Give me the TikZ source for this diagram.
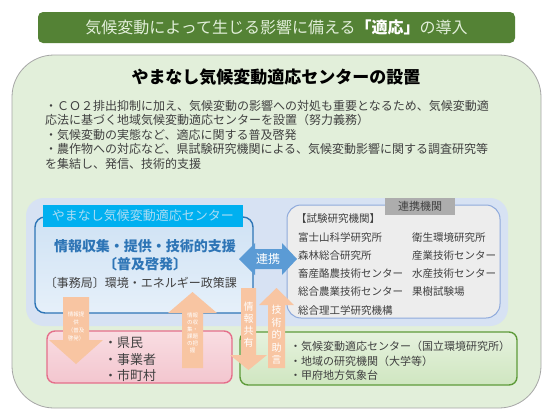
\documentclass[tikz,border=0pt]{standalone}
\usepackage{fontspec}
\setmainfont{Noto Sans CJK JP}
\usepackage{tikz}
\usetikzlibrary{positioning}
\definecolor{TitleGreen}{HTML}{548235}
\definecolor{TitleText}{HTML}{E2EFDA}
\definecolor{PanelGreen}{HTML}{E2EFDA}
\definecolor{ZoneBlue}{HTML}{D7E2F3}
\definecolor{CenterBlue}{HTML}{2E75B6}
\definecolor{CenterTop}{HTML}{CFE2F4}
\definecolor{CenterBottom}{HTML}{E6F0FA}
\definecolor{HeaderCyan}{HTML}{00B0F0}
\definecolor{HeaderText}{HTML}{A8DCF4}
\definecolor{PartnerLine}{HTML}{8FAADC}
\definecolor{PartnerFill}{HTML}{EDEDED}
\definecolor{LabelGray}{HTML}{ADADAD}
\definecolor{PinkLine}{HTML}{E56F8B}
\definecolor{PinkTop}{HTML}{F9DDE2}
\definecolor{PinkBottom}{HTML}{F3C6CF}
\definecolor{GreenLine}{HTML}{5E9B3A}
\definecolor{GreenTop}{HTML}{E6F2DE}
\definecolor{GreenBottom}{HTML}{CFE6C0}
\definecolor{Peach}{HTML}{F8C5A2}
\definecolor{LinkBlue}{HTML}{5B9BD5}
\definecolor{TextGray}{HTML}{404040}
\begin{document}
\begin{tikzpicture}[x=1pt,y=-1pt,
    panel/.style={rounded corners=10pt, line width=1.4pt},
    peacharrow/.style={fill=Peach},
    listtext/.style={anchor=west, inner sep=0pt, text=TextGray, font=\fontsize{10.5}{10.5}\selectfont},
    membertext/.style={anchor=west, inner sep=0pt, text=TextGray},
    arrowtext/.style={inner sep=0pt, text=white, align=center},
  ]
\useasboundingbox (0,0) rectangle (550,413);
\fill[white] (0,0) rectangle (550,413);

% title bar
\node[fill=TitleGreen, rounded corners=5pt, minimum width=477pt, minimum height=31pt, inner sep=0pt,
      text=TitleText, font=\fontsize{16}{16}\selectfont] (title) at (276.5,27.5)
      {気候変動によって生じる影響に備える\textcolor{white}{\bfseries「適応」}の導入};

% outer panel
\draw[fill=PanelGreen, draw=gray!70, line width=0.8pt, rounded corners=42pt] (12,55) rectangle (541,408);
\node[font=\bfseries\fontsize{17}{17}\selectfont] (heading) at (276,77) {やまなし気候変動適応センターの設置};
\node[anchor=north west, align=left, inner sep=0pt, text=TextGray, font=\fontsize{12}{14.5}\selectfont] (aims) at (45,100)
  {・ＣＯ２排出抑制に加え、気候変動の影響への対処も重要となるため、気候変動適\\
   応法に基づく地域気候変動適応センターを設置（努力義務）\\
   ・気候変動の実態など、適応に関する普及啓発\\
   ・農作物への対応など、県試験研究機関による、気候変動影響に関する調査研究等\\
   を集結し、発信、技術的支援};

% blue zone
\fill[ZoneBlue, rounded corners=18pt] (26,198) rectangle (508,326);

% center
\draw[panel, draw=CenterBlue, top color=CenterTop, bottom color=CenterBottom] (35,217) rectangle (253,313);
\node[fill=HeaderCyan, minimum width=200pt, minimum height=22pt, inner sep=0pt,
      text=HeaderText, font=\fontsize{13}{13}\selectfont] (header) at (143,216) {やまなし気候変動適応センター};
\node[text=CenterBlue, font=\bfseries\fontsize{14}{14}\selectfont] (task) at (145,246) {情報収集・提供・技術的支援};
\node[text=CenterBlue, font=\bfseries\fontsize{14}{14}\selectfont] (fukyu) at (145,264) {〔普及啓発〕};
\node[text=TextGray, font=\fontsize{12}{12}\selectfont] (office) at (141,283) {〔事務局〕環境・エネルギー政策課};

% partners
\draw[panel, draw=PartnerLine, fill=PartnerFill, line width=1pt, rounded corners=14pt] (287,205) rectangle (500,318);
\node[fill=LabelGray, minimum width=70pt, minimum height=17pt, inner sep=0pt,
      text=TextGray, font=\fontsize{11}{11}\selectfont] (partners) at (420,206) {連携機関};
\node[listtext] (labs) at (296,219) {【試験研究機関】};
\node[listtext] (fuji) at (298,238) {富士山科学研究所};
\node[listtext] (forest) at (298,256) {森林総合研究所};
\node[listtext] (dairy) at (298,274) {畜産酪農技術センター};
\node[listtext] (agri) at (298,292) {総合農業技術センター};
\node[listtext] (science) at (298,311) {総合理工学研究機構};
\node[listtext] (health) at (412,238) {衛生環境研究所};
\node[listtext] (industry) at (412,256) {産業技術センター};
\node[listtext] (fishery) at (412,274) {水産技術センター};
\node[listtext] (fruit) at (412,292) {果樹試験場};

% link arrow
\fill[LinkBlue] (239,259) -- (255,243) -- (255,249) -- (282,249) -- (282,243) -- (297,259)
  -- (282,275) -- (282,269) -- (255,269) -- (255,275) -- cycle;
\node[text=white, font=\fontsize{12}{12}\selectfont] (link) at (268,259) {連携};

% residents
\draw[panel, draw=PinkLine, top color=PinkTop, bottom color=PinkBottom, rounded corners=8pt] (47,331) rectangle (232,383);
\node[membertext, font=\fontsize{13}{13}\selectfont] (citizen) at (104,343) {・県民};
\node[membertext, font=\fontsize{13}{13}\selectfont] (business) at (104,360) {・事業者};
\node[membertext, font=\fontsize{13}{13}\selectfont] (town) at (104,376) {・市町村};

% national bodies
\draw[panel, draw=GreenLine, top color=GreenTop, bottom color=GreenBottom, rounded corners=8pt] (240,332) rectangle (517,385);
\node[membertext, font=\fontsize{11}{11}\selectfont] (nies) at (290,346) {・気候変動適応センター（国立環境研究所）};
\node[membertext, font=\fontsize{11}{11}\selectfont] (univ) at (290,361) {・地域の研究機関（大学等）};
\node[membertext, font=\fontsize{11}{11}\selectfont] (jma) at (290,375) {・甲府地方気象台};

% block arrows
\fill[peacharrow] (63,297) -- (89,297) -- (89,340) -- (103,340) -- (76,364) -- (49,340) -- (63,340) -- cycle;
\node[arrowtext, font=\fontsize{5.5}{8}\selectfont] (inform) at (76,326) {情報提\\供\\（普及\\啓発）};
\fill[peacharrow] (182,368) -- (203,368) -- (203,313) -- (217,313) -- (192.5,292) -- (168,313) -- (182,313) -- cycle;
\node[arrowtext, font=\fontsize{5.5}{7}\selectfont] (collect) at (192.5,333) {情報\\の収\\集・\\課題\\の把\\握};
\fill[peacharrow] (241,288) -- (256,288) -- (256,355) -- (267,355) -- (248.5,370) -- (230,355) -- (241,355) -- cycle;
\node[arrowtext, font=\fontsize{10}{12}\selectfont] (share) at (248.5,325) {情\\報\\共\\有};
\fill[peacharrow] (268,368) -- (285,368) -- (285,305) -- (294,305) -- (276.5,288) -- (259,305) -- (268,305) -- cycle;
\node[arrowtext, font=\fontsize{10}{12.5}\selectfont] (advice) at (276.5,335) {技\\術\\的\\助\\言};
\end{tikzpicture}
\end{document}
